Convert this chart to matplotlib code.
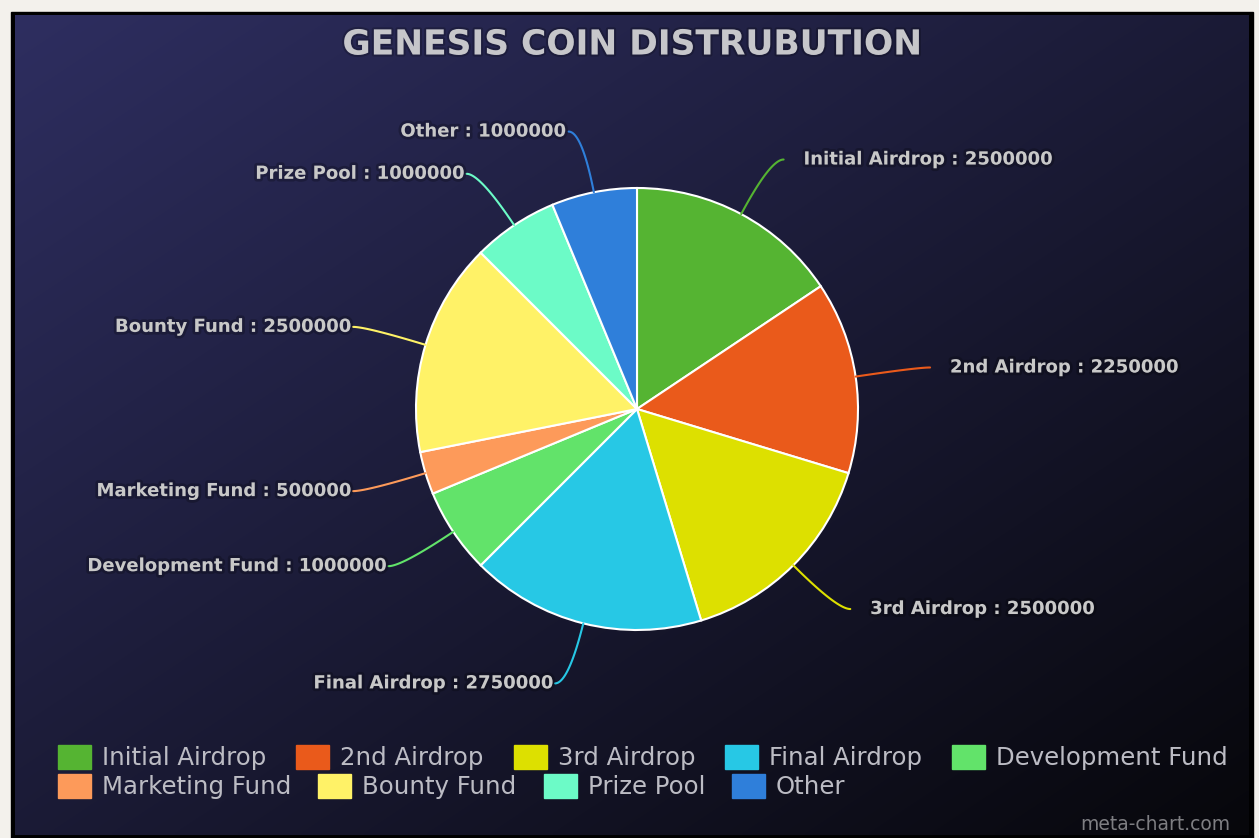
import numpy as np
import matplotlib
matplotlib.use("Agg")
import matplotlib.pyplot as plt
import matplotlib.patheffects as pe
from matplotlib.patches import Rectangle

# data
labels = ["Initial Airdrop", "2nd Airdrop", "3rd Airdrop", "Final Airdrop",
          "Development Fund", "Marketing Fund", "Bounty Fund", "Prize Pool", "Other"]
values = [2500000, 2250000, 2500000, 2750000, 1000000, 500000, 2500000, 1000000, 1000000]
colors = ["#55b432", "#ea5a1b", "#dde000", "#27c8e5", "#62e36a",
          "#fd9a5a", "#fff267", "#6cfbc7", "#2f7fda"]
title = "GENESIS COIN DISTRUBUTION"
watermark = "meta-chart.com"

W, H = 1259, 838
fig = plt.figure(figsize=(W / 100, H / 100), dpi=100)

# background: light frame, black border, diagonal navy gradient
bg = fig.add_axes([0, 0, 1, 1])
bg.axis("off")
bg.add_patch(Rectangle((0, 0), W, H, color="#f3f1ec", zorder=0))
bg.add_patch(Rectangle((11, 12), 1242, 830, color="black", zorder=1))
yy, xx = np.mgrid[0:1:200j, 0:1:300j]
t = 0.5 * xx + 0.5 * yy
c_start = np.array([0x2e, 0x2e, 0x60]) / 255
c_end = np.array([0x07, 0x07, 0x0b]) / 255
grad = c_start + (c_end - c_start) * t[..., None]
bg.imshow(grad, extent=(15, 1249, 835, 16), aspect="auto", interpolation="bilinear", zorder=2)
bg.set_xlim(0, W)
bg.set_ylim(H, 0)

# title
bg.text(632, 45, title, ha="center", va="center", fontsize=24.8, fontweight="bold",
        color="#c6c6ca", family="DejaVu Sans", zorder=5,
        path_effects=[pe.withStroke(linewidth=3, foreground="#000000", alpha=0.2)])

# pie, placed in pixel-matched axes
cx, cy, R = 637, 409, 221
ax = fig.add_axes([0, 0, 1, 1])
ax.pie(values, colors=colors, startangle=90, counterclock=False, radius=1,
       wedgeprops=dict(edgecolor="white", linewidth=1.5))
ax.set_aspect("auto")
ax.set_xlim(-cx / R, (W - cx) / R)
ax.set_ylim(-(H - cy) / R, cy / R)
ax.axis("off")

total = float(sum(values))
starts = np.cumsum([0] + values[:-1])
glow = [pe.withStroke(linewidth=4, foreground="#000000", alpha=0.22)]
for lab, v, s0, col in zip(labels, values, starts, colors):
    mid = (s0 + v / 2) / total
    th = np.deg2rad(90 - mid * 360)
    u = np.array([np.cos(th), np.sin(th)])
    side = 1 if u[0] >= 0 else -1
    p0 = u * 1.0
    p1 = u * 1.28
    p2 = p1 + np.array([side * 0.06, 0])
    s = np.linspace(0, 1, 40)[:, None]
    pts = (1 - s) ** 2 * p0 + 2 * (1 - s) * s * p1 + s ** 2 * p2
    ax.plot(pts[:, 0], pts[:, 1], color=col, lw=1.5, solid_capstyle="round")
    gap = 0.09 if side > 0 else 0.015
    ax.text(p2[0] + side * gap, p2[1], f"{lab} : {v}",
            ha="left" if side > 0 else "right", va="center",
            fontsize=13, fontweight="bold", color="#c8c8c8", path_effects=glow)

# legend laid out as a left-aligned flow, two rows
fig.canvas.draw()
renderer = fig.canvas.get_renderer()
rows = [list(range(0, 5)), list(range(5, 9))]
row_y = [757, 786]
row_gap = [30, 27]
for idxs, y, g in zip(rows, row_y, row_gap):
    x = 58
    for i in idxs:
        bg.add_patch(Rectangle((x, y - 12), 33, 24, color=colors[i], zorder=5))
        txt = bg.text(x + 44, y + 1, labels[i], ha="left", va="center", fontsize=17.6,
                      color="#bcbcc4", zorder=5)
        w = txt.get_window_extent(renderer).width
        x = x + 44 + w + g

bg.text(1230, 824, watermark, ha="right", va="center", fontsize=13.5, color="#7e7e82", zorder=5)

fig.savefig("out.png", dpi=100)
